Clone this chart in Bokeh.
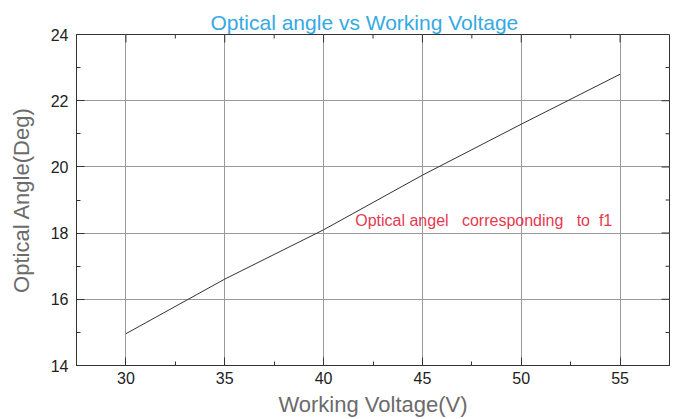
from bokeh.plotting import figure
from bokeh.models import SingleIntervalTicker, Range1d, Label
from bokeh.embed import file_html
from bokeh.resources import INLINE

# Data
voltage = [30, 35, 40, 45, 50, 55]
angle = [14.96, 16.61, 18.10, 19.75, 21.29, 22.80]

x_major_ticks = [30, 35, 40, 45, 50, 55]
y_major_ticks = [16, 18, 20, 22]
x_minor_ticks = [32.5, 37.5, 42.5, 47.5, 52.5]
y_minor_ticks = [15, 17, 19, 21, 23]

title_text = "Optical angle vs Working Voltage"
x_label = "Working Voltage(V)"
y_label = "Optical Angle(Deg)"
note_text = "Optical angel\u00a0\u00a0 corresponding\u00a0\u00a0 to\u00a0 f1"
note_x = 41.6
note_y = 18.38

X_MIN, X_MAX = 27.5, 57.5
Y_MIN, Y_MAX = 14, 24

FONT = "Liberation Sans"
INK = "#333333"

p = figure(width=675, height=419,
           x_range=Range1d(X_MIN, X_MAX), y_range=Range1d(Y_MIN, Y_MAX),
           output_backend="svg", toolbar_location=None,
           min_border_left=76, min_border_right=6,
           min_border_top=34, min_border_bottom=52,
           x_axis_label=x_label, y_axis_label=y_label)

p.background_fill_color = "white"
p.border_fill_color = "white"
p.outline_line_color = INK
p.outline_line_width = 1

# title
p.title.text = title_text
p.title.text_font = FONT
p.title.text_font_size = "21px"
p.title.text_font_style = "normal"
p.title.text_color = "#35a9e3"
p.title.align = "left"
p.title.offset = 134
p.title.standoff = 2

xticker = SingleIntervalTicker(interval=5, num_minor_ticks=2)
yticker = SingleIntervalTicker(interval=2, num_minor_ticks=2)

for ax, ticker in ((p.xaxis[0], xticker), (p.yaxis[0], yticker)):
    ax.ticker = ticker
    ax.axis_line_color = INK
    ax.major_tick_line_color = INK
    ax.minor_tick_line_color = INK
    ax.major_tick_in = 8
    ax.major_tick_out = 0
    ax.minor_tick_in = 4
    ax.minor_tick_out = 0
    ax.major_label_text_font = FONT
    ax.major_label_text_font_size = "16px"
    ax.major_label_text_color = "#222222"
    ax.axis_label_text_font = FONT
    ax.axis_label_text_font_size = "22px"
    ax.axis_label_text_font_style = "normal"
    ax.axis_label_text_color = "#6b6b6b"

p.xaxis[0].major_label_standoff = 6
p.xaxis[0].axis_label_standoff = 5
p.yaxis[0].major_label_standoff = 8
p.yaxis[0].axis_label_standoff = 14

p.xgrid.ticker = xticker
p.ygrid.ticker = yticker
p.xgrid.grid_line_color = "#9a9a9a"
p.ygrid.grid_line_color = "#9a9a9a"

# inward ticks on top and right frame edges (glyphs are clipped to the frame)
p.rect(x=x_major_ticks, y=Y_MAX, width=1, width_units="screen",
       height=16, height_units="screen", fill_color=INK, line_color=None)
p.rect(x=x_minor_ticks, y=Y_MAX, width=1, width_units="screen",
       height=8, height_units="screen", fill_color=INK, line_color=None)
p.rect(x=X_MAX, y=y_major_ticks, width=16, width_units="screen",
       height=1, height_units="screen", fill_color=INK, line_color=None)
p.rect(x=X_MAX, y=y_minor_ticks, width=8, width_units="screen",
       height=1, height_units="screen", fill_color=INK, line_color=None)

p.line(voltage, angle, line_color=INK, line_width=1)

note = Label(x=note_x, y=note_y, text=note_text,
             text_font=FONT, text_font_size="16px",
             text_color="#e63950", text_baseline="alphabetic")
p.add_layout(note)

open("out.html", "w").write(file_html(p, INLINE))
